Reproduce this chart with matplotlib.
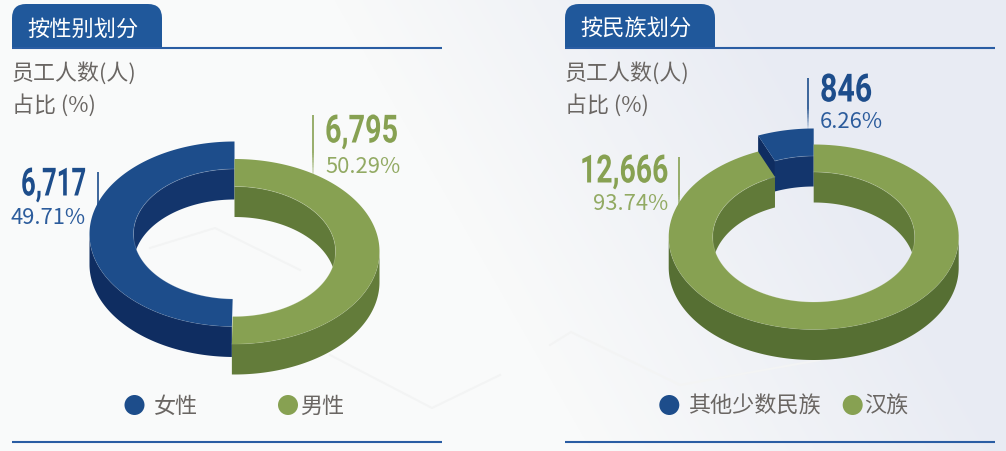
import numpy as np
import matplotlib
matplotlib.use("Agg")
import matplotlib.pyplot as plt
from matplotlib.patches import Circle, PathPatch
from matplotlib.path import Path
from matplotlib.patheffects import AbstractPathEffect
from matplotlib.transforms import Affine2D

plt.rcParams['font.family'] = ['Noto Sans CJK SC', 'DejaVu Sans']

gender_labels = ["女性", "男性"]
gender_counts = [6717, 6795]
gender_pct = ["49.71%", "50.29%"]

ethnic_labels = ["其他少数民族", "汉族"]
ethnic_counts = [846, 12666]
ethnic_pct = ["6.26%", "93.74%"]

titles = ["按性别划分", "按民族划分"]
sub_lines = ["员工人数(人)", "占比 (%)"]

BLUE = "#1d4d8b"
BLUE_OUT = "#0f2d61"
BLUE_IN = "#13356c"
GREEN = "#87a152"
GREEN_OUT = "#637c3a"
GREEN_OUT2 = "#566f33"
GREEN_IN = "#617a39"
HEAD = "#20589b"
LINE = "#2a5da3"
GRAY = "#6a6663"
PCT_BLUE = "#2c5c9c"
PCT_GREEN = "#92aa63"

A_OUT, B_OUT = 145, 92.5
A_IN, B_IN = 101, 65
DEPTH = 30.5

fig = plt.figure(figsize=(10.06, 4.51), dpi=100)
ax = fig.add_axes([0, 0, 1, 1])
ax.set_xlim(0, 1006)
ax.set_ylim(451, 0)
ax.axis("off")

# background, pale grey going to pale blue on the right
yy, xx = np.mgrid[0:451, 0:1006]
g = np.clip((xx - 0.57 * yy - 334) / 421, 0, 1)[..., None]
bg = (1 - g) * np.array([249, 250, 250]) + g * np.array([232, 235, 243])
ax.imshow(bg.astype(np.uint8), extent=(0, 1006, 451, 0), aspect="auto", zorder=0)
for xs, ys in [([150, 215, 300], [248, 228, 270]),
               ([330, 432, 500], [355, 408, 375]),
               ([550, 571, 680, 820], [345, 332, 385, 360])]:
    ax.plot(xs, ys, color="#f3f4f4", lw=1.5, zorder=1)


class Narrow(AbstractPathEffect):
    # squeeze a text sideways, the reference numbers are a condensed face
    def __init__(self, sx, x0):
        super().__init__()
        self.sx, self.x0 = sx, x0

    def draw_path(self, renderer, gc, tpath, affine, rgbFace=None):
        t = Affine2D().translate(-self.x0, 0).scale(self.sx, 1).translate(self.x0, 0)
        renderer.draw_path(gc, tpath, affine + t, rgbFace)


def pts(cx, cy, a, b, t0, t1):
    t = np.radians(np.linspace(t0, t1, 160))
    return np.column_stack([cx + a * np.sin(t), cy - b * np.cos(t)])


def fill(p, color):
    ax.fill(p[:, 0], p[:, 1], color=color, lw=0, zorder=3)


def hairline(p):
    ax.plot(p[:, 0], p[:, 1], color="white", alpha=0.2, lw=0.6, zorder=3)


def outer_wall(cx, cy, t0, t1, color):
    s, e = max(t0, 90), min(t1, 270)
    if e <= s:
        return
    top = pts(cx, cy, A_OUT, B_OUT, s, e)
    fill(np.vstack([top, top[::-1] + [0, DEPTH]]), color)
    hairline(top)


def inner_wall(cx, cy, t0, t1, color):
    for s, e in [(max(t0, -90), min(t1, 90)), (max(t0, 270), min(t1, 450))]:
        if e <= s:
            continue
        top = pts(cx, cy, A_IN, B_IN, s, e)
        fill(np.vstack([top, top[::-1] + [0, DEPTH]]), color)


def top_face(cx, cy, t0, t1, color):
    o = pts(cx, cy, A_OUT, B_OUT, t0, t1)
    i = pts(cx, cy, A_IN, B_IN, t0, t1)
    fill(np.vstack([o, i[::-1]]), color)
    hairline(i)


def cut_face(cx, cy, t, color):
    o = pts(cx, cy, A_OUT, B_OUT, t, t)[:1]
    i = pts(cx, cy, A_IN, B_IN, t, t)[:1]
    fill(np.vstack([o, i, i + [0, DEPTH], o + [0, DEPTH]]), color)


def fade_line(x, y0, y1, color):
    ys = np.linspace(y0, y1, 40)
    for k in range(39):
        al = 1.0 if k < 22 else 1.0 - (k - 22) / 17
        ax.plot([x, x], [ys[k], ys[k + 1]], color=color, alpha=al, lw=1.2,
                solid_capstyle="butt", zorder=4)


def header(x0, title):
    x1, r = x0 + 150, 14
    verts = [(x0, 48), (x0, 4 + r), (x0, 4), (x0 + r, 4), (x1 - r, 4), (x1, 4), (x1, 4 + r), (x1, 48), (x0, 48)]
    codes = [Path.MOVETO, Path.LINETO, Path.CURVE3, Path.CURVE3, Path.LINETO,
             Path.CURVE3, Path.CURVE3, Path.LINETO, Path.CLOSEPOLY]
    ax.add_patch(PathPatch(Path(verts, codes), fc=HEAD, ec="none", zorder=5))
    ax.text(x0 + 15, 29, title, color="white", fontsize=16, va="center", zorder=6)
    ax.plot([x0, x0 + 430], [48, 48], color=LINE, lw=1.5, solid_capstyle="butt", zorder=5)
    ax.plot([x0, x0 + 430], [442, 442], color=LINE, lw=1.5, solid_capstyle="butt", zorder=5)
    ax.text(x0, 73, sub_lines[0], color=GRAY, fontsize=15.8, va="center", zorder=6)
    ax.text(x0, 105, sub_lines[1], color=GRAY, fontsize=15.8, va="center", zorder=6)


def big_num(x, y, v, color, sx):
    x0 = ax.transData.transform((x, y))[0]
    ax.text(x, y, f"{v:,}", color=color, fontsize=28, fontweight="bold", ha="left", va="center",
            family=["Roboto", "DejaVu Sans"], path_effects=[Narrow(sx, x0)], zorder=6)


def pct_txt(x, y, s, color, ha):
    ax.text(x, y, s, color=color, fontsize=15.8, ha=ha, va="center", zorder=6)


def legend_item(cx, tx, color, s):
    ax.add_patch(Circle((cx, 405), 10, fc=color, ec="none", zorder=5))
    ax.text(tx, 407, s, color=GRAY, fontsize=15.9, va="center", zorder=6)


# left donut, gender
header(12, titles[0])
cx = 234.5
green_span = 360 * gender_counts[1] / sum(gender_counts)
inner_wall(cx, 234, green_span, 360, BLUE_IN)
outer_wall(cx, 234, green_span, 360, BLUE_OUT)
top_face(cx, 234, green_span, 360, BLUE)
inner_wall(cx, 251.5, 0, green_span, GREEN_IN)
outer_wall(cx, 251.5, 0, green_span, GREEN_OUT)
top_face(cx, 251.5, 0, green_span, GREEN)

fade_line(98, 172, 228, BLUE)
fade_line(313, 115, 180, GREEN)
big_num(21, 185, gender_counts[0], BLUE, 0.66)
pct_txt(86, 218, gender_pct[0], PCT_BLUE, "right")
big_num(325, 132, gender_counts[1], GREEN, 0.74)
pct_txt(325, 167, gender_pct[1], PCT_GREEN, "left")
legend_item(134.5, 153.5, BLUE, gender_labels[0])
legend_item(288, 300.5, GREEN, gender_labels[1])

# right donut, ethnicity
header(565, titles[1])
cx = 813.7
blue_span = 360 * ethnic_counts[0] / sum(ethnic_counts)
cut_face(cx, 221, -blue_span, BLUE_OUT)
inner_wall(cx, 221, -blue_span, 0, BLUE_IN)
top_face(cx, 221, -blue_span, 0, BLUE)
inner_wall(cx, 237, 0, 360 - blue_span, GREEN_IN)
outer_wall(cx, 237, 0, 360 - blue_span, GREEN_OUT2)
top_face(cx, 237, 0, 360 - blue_span, GREEN)

fade_line(808, 78, 130, BLUE)
fade_line(679.5, 157, 222, GREEN)
big_num(820, 91, ethnic_counts[0], BLUE, 0.78)
pct_txt(820, 122, ethnic_pct[0], PCT_BLUE, "left")
big_num(580, 172, ethnic_counts[1], GREEN, 0.73)
pct_txt(668, 204, ethnic_pct[1], PCT_GREEN, "right")
legend_item(669.3, 688, BLUE, ethnic_labels[0])
legend_item(852.7, 864.5, GREEN, ethnic_labels[1])

fig.savefig("out.png", dpi=100)
